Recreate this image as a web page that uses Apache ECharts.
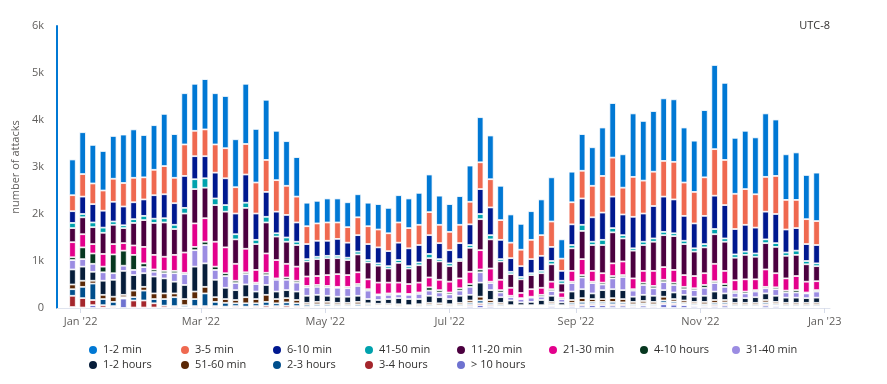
<!DOCTYPE html>
<html><head><meta charset="utf-8">
<script src="https://cdn.jsdelivr.net/npm/echarts@6/dist/echarts.min.js"></script>
<style>html,body{margin:0;padding:0;background:#fff}#c{width:887px;height:384px}</style>
</head><body><div id="c"></div><script>
const dates = ['2021-12-28','2022-01-02','2022-01-07','2022-01-12','2022-01-17','2022-01-22','2022-01-27','2022-02-01','2022-02-06','2022-02-11',
'2022-02-16','2022-02-21','2022-02-26','2022-03-03','2022-03-08','2022-03-13','2022-03-18','2022-03-23','2022-03-28','2022-04-02',
'2022-04-07','2022-04-12','2022-04-17','2022-04-22','2022-04-27','2022-05-02','2022-05-07','2022-05-12','2022-05-17','2022-05-22',
'2022-05-27','2022-06-01','2022-06-06','2022-06-11','2022-06-16','2022-06-21','2022-06-26','2022-07-01','2022-07-06','2022-07-11',
'2022-07-16','2022-07-21','2022-07-26','2022-07-31','2022-08-05','2022-08-10','2022-08-15','2022-08-20','2022-08-25','2022-08-30',
'2022-09-04','2022-09-09','2022-09-14','2022-09-19','2022-09-24','2022-09-29','2022-10-04','2022-10-09','2022-10-14','2022-10-19',
'2022-10-24','2022-10-29','2022-11-03','2022-11-08','2022-11-13','2022-11-18','2022-11-23','2022-11-28','2022-12-03','2022-12-08',
'2022-12-13','2022-12-18','2022-12-23','2022-12-28'];

const min1_2 = [760,890,820,840,910,1030,1030,900,950,1110,
930,1090,1000,1070,1090,1110,1020,1280,1140,1280,
1050,950,840,500,480,510,510,530,490,500,
540,540,580,630,680,800,620,590,610,770,
960,930,730,600,550,610,760,940,410,650,
780,820,1030,1160,710,1350,1270,1290,1330,1330,
1170,1090,1430,1790,1640,1190,1240,1210,1350,1200,
970,1010,940,1030];
const min3_5 = [340,480,440,430,490,500,520,470,540,600,
540,670,540,570,600,640,560,650,660,680,
670,620,550,380,370,390,350,330,380,380,
380,380,430,430,430,490,390,390,390,480,
570,600,420,330,350,410,440,540,260,470,
590,670,780,830,570,850,700,730,760,800,
710,670,820,990,960,750,760,710,740,810,
630,600,530,510];
const min6_10 = [250,370,390,360,420,400,360,350,500,510,
460,680,490,470,550,570,440,600,560,530,
460,480,410,320,340,320,360,320,350,340,
340,320,370,380,370,400,340,280,340,440,
530,590,410,290,230,300,320,300,210,440,
560,520,580,670,440,670,600,690,750,720,
530,530,600,710,710,540,570,550,590,620,
490,480,360,390];
const min41_50 = [110,70,100,110,70,60,80,90,90,90,
90,120,210,200,140,140,110,110,90,120,
70,90,70,50,50,50,50,50,60,50,
50,50,60,50,60,90,50,60,40,60,
110,90,50,50,50,40,50,70,60,70,
130,70,110,90,70,50,70,70,70,60,
70,70,70,110,70,70,70,70,80,80,
70,90,70,60];
const min11_20 = [300,360,360,450,410,320,480,570,680,730,
550,830,730,650,780,760,520,870,550,660,
500,470,460,320,360,360,340,320,380,360,
360,300,420,330,370,410,390,330,370,510,
660,620,390,290,290,300,310,370,190,480,
600,550,600,660,490,590,550,620,680,720,
660,520,550,630,620,480,520,480,560,560,
480,450,370,320];
const min21_30 = [320,280,200,270,220,160,200,350,310,300,
340,430,500,500,530,550,360,500,270,410,
390,290,300,200,190,230,270,250,250,210,
250,230,230,210,210,210,220,230,210,260,
410,280,220,170,110,160,150,160,110,230,
340,230,200,270,290,230,250,320,270,270,
250,260,250,370,280,230,260,230,370,300,
260,300,230,190];
const hours4_10 = [60,250,220,120,400,320,320,80,50,50,
50,30,70,70,70,60,50,40,30,50,
30,50,40,30,40,30,20,30,40,30,
20,30,20,20,30,70,50,40,50,60,
60,30,50,30,20,20,40,40,30,30,
50,30,40,50,40,30,50,50,50,50,
50,40,60,40,60,40,40,30,30,40,
40,50,20,30];
const min31_40 = [200,160,170,180,140,110,110,130,100,110,
180,230,350,390,210,250,150,220,160,210,
250,220,190,180,170,180,190,180,210,180,
100,90,80,90,110,110,100,100,110,170,
220,150,100,70,70,90,70,100,70,180,
250,220,120,230,280,130,210,160,170,160,
120,140,170,180,140,100,100,120,110,140,
110,110,100,130];
const hours1_2 = [320,300,190,300,360,510,330,290,360,320,
250,300,530,500,370,240,210,270,160,210,
160,170,180,150,150,130,130,130,130,90,
80,100,130,130,110,150,130,110,150,120,
300,210,120,100,60,70,110,130,60,180,
190,120,190,190,190,110,130,130,140,140,
120,110,130,180,140,110,100,120,140,130,
110,110,100,110];
const min51_60 = [100,130,60,90,110,50,140,80,120,120,
80,130,160,140,100,80,70,130,90,150,
90,90,70,40,50,50,40,40,50,30,
30,30,30,20,30,40,40,30,40,50,
80,60,40,20,20,20,20,40,20,60,
80,60,60,80,70,50,50,50,80,50,
50,40,50,60,50,40,40,40,50,40,
40,40,40,40];
const hours2_3 = [140,240,350,130,90,20,70,210,90,140,
190,40,150,270,90,80,60,70,60,80,
60,70,60,40,40,40,30,30,40,30,
20,20,20,10,20,30,20,20,30,40,
60,40,30,10,10,10,10,30,10,40,
50,40,40,50,40,30,30,30,50,40,
30,30,30,40,40,30,30,30,40,30,
30,30,30,30];
const hours3_4 = [240,200,110,50,30,10,150,150,90,40,
30,10,30,30,30,20,30,20,30,40,
30,40,30,20,20,20,20,20,20,20,
20,20,10,10,10,20,20,10,20,30,
40,30,20,10,10,10,10,20,10,30,
30,30,30,30,30,20,20,20,30,30,
20,20,20,30,30,20,20,20,30,20,
20,20,20,20];
const hoursOver10 = [20,10,60,10,10,200,10,10,10,10,
10,10,10,10,10,10,10,10,10,10,
10,10,10,10,20,20,20,20,20,20,
20,20,20,20,20,20,20,20,20,40,
60,40,20,20,20,20,20,40,20,40,
50,60,60,50,50,30,50,30,80,70,
60,40,30,40,50,20,20,20,50,40,
20,20,20,20];

// stacked bottom to top
const seriesDefs = [
  ['> 10 hours', hoursOver10, '#6e72d0'],
  ['3-4 hours', hours3_4, '#a4262c'],
  ['2-3 hours', hours2_3, '#004e8c'],
  ['51-60 min', min51_60, '#5b2806'],
  ['1-2 hours', hours1_2, '#061d3a'],
  ['31-40 min', min31_40, '#9b8ce2'],
  ['4-10 hours', hours4_10, '#06371f'],
  ['21-30 min', min21_30, '#e3008c'],
  ['11-20 min', min11_20, '#4b003f'],
  ['41-50 min', min41_50, '#00a2ad'],
  ['6-10 min', min6_10, '#00188f'],
  ['3-5 min', min3_5, '#ef6950'],
  ['1-2 min', min1_2, '#0078d4']
];
const legendRow1 = ['1-2 min','3-5 min','6-10 min','41-50 min','11-20 min','21-30 min','4-10 hours','31-40 min'];
const legendRow2 = ['1-2 hours','51-60 min','2-3 hours','3-4 hours','> 10 hours'];
const monthNames = ['Jan','Feb','Mar','Apr','May','Jun','Jul','Aug','Sep','Oct','Nov','Dec'];

const FONT = '"Segoe UI", "Open Sans", sans-serif';
const chart = echarts.init(document.getElementById('c'));
const legendLefts = [87, 179, 271, 363, 455, 547, 638, 730];
function makeLegend(name, col, top) {
  return {
    left: legendLefts[col], top: top, padding: 0, itemGap: 0, itemWidth: 10, itemHeight: 10, icon: 'circle',
    textStyle: { fontFamily: FONT, fontSize: 11, color: '#323130' },
    data: [name]
  };
}
const legends = legendRow1.map(function (n, i) { return makeLegend(n, i, 344); })
  .concat(legendRow2.map(function (n, i) { return makeLegend(n, i, 359); }));

chart.setOption({
  animation: false,
  textStyle: { fontFamily: FONT },
  title: { text: 'UTC-8', right: 57, top: 20, textStyle: { fontFamily: FONT, fontSize: 11, fontWeight: 'normal', color: '#323130' }, padding: 0 },
  legend: legends,
  grid: { left: 57, right: 57, top: 26, bottom: 76 },
  xAxis: {
    type: 'time',
    min: new Date(2021, 11, 22).getTime(),
    max: new Date(2023, 0, 2).getTime(),
    splitNumber: 5,
    axisLine: { lineStyle: { color: '#dfe3ee', width: 1 } },
    axisTick: { show: true, length: 5, lineStyle: { color: '#d6dbe8' } },
    splitLine: { show: false },
    axisLabel: {
      color: '#605e5c', fontSize: 11, fontFamily: FONT, margin: 8,
      showMinLabel: false, showMaxLabel: false,
      formatter: function (v) { const d = new Date(v); return monthNames[d.getMonth()] + " '" + String(d.getFullYear()).slice(2); }
    }
  },
  yAxis: {
    type: 'value', min: 0, max: 6000, interval: 1000,
    name: 'number of attacks', nameLocation: 'middle', nameGap: 31,
    nameTextStyle: { color: '#605e5c', fontSize: 11, fontFamily: FONT },
    axisLine: { show: true, lineStyle: { color: '#0078d4', width: 2 } },
    axisTick: { show: false },
    splitLine: { show: false },
    axisLabel: { color: '#605e5c', fontSize: 11, fontFamily: FONT, margin: 13,
      formatter: function (v) { return v === 0 ? '0' : (v / 1000) + 'k'; } }
  },
  series: seriesDefs.map(function (d) {
    return {
      name: d[0], type: 'bar', stack: 'total', barWidth: 6.5,
      itemStyle: { color: d[2], borderColor: '#ffffff', borderWidth: 0.8 },
      emphasis: { disabled: true },
      data: dates.map(function (t, i) { return [t, d[1][i]]; })
    };
  })
});
</script></body></html>
